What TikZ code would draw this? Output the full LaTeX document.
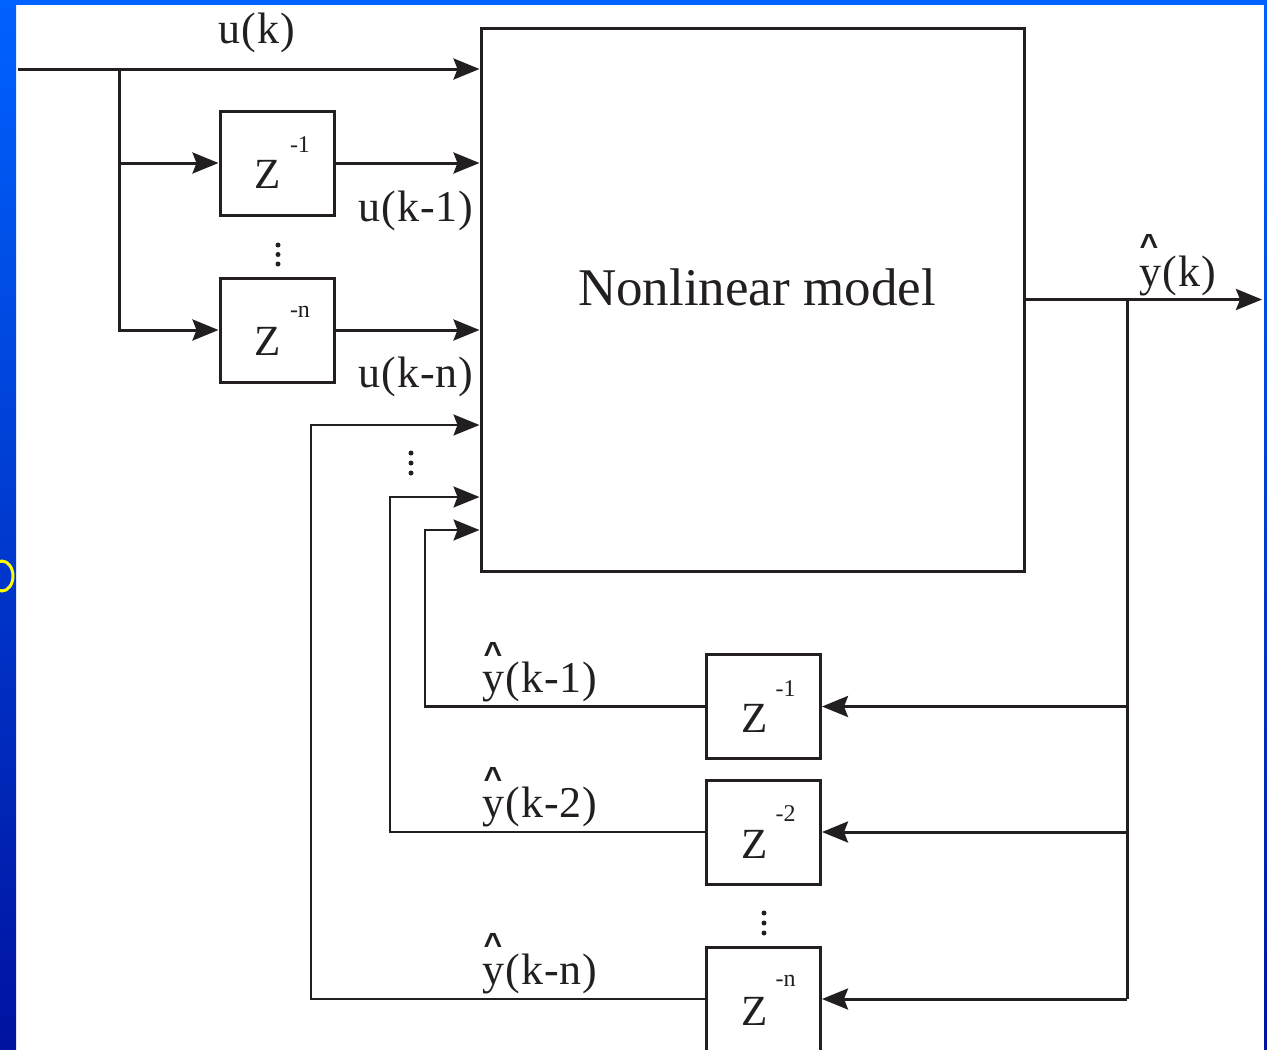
\documentclass[tikz,border=0pt]{standalone}
\usepackage{fontspec}
\setmainfont{Liberation Serif}
\newfontfamily\lblfont[LetterSpace=2.5]{Liberation Serif}
\newfontfamily\caretfont{Liberation Sans}
\usetikzlibrary{arrows.meta,calc}
\definecolor{ink}{HTML}{231F20}
\definecolor{topblue}{HTML}{0062FF}
\definecolor{midblue}{HTML}{0036CC}
\definecolor{botblue}{HTML}{0012A0}
\definecolor{slideyellow}{HTML}{FFFF00}
\begin{document}
\begin{tikzpicture}[x=1pt,y=-1pt,
  wire/.style={draw=ink,line width=3pt},
  thinwire/.style={draw=ink,line width=2.2pt},
  arr/.style={-{Stealth[length=26pt,width=21pt,inset=4pt]}},
  zbox/.style={draw=ink,line width=3pt,minimum width=114pt,minimum height=104pt,inner sep=0pt},
  bigbox/.style={draw=ink,line width=3pt,minimum width=543pt,minimum height=543pt,inner sep=0pt},
  lbl/.style={text=ink,font=\lblfont\fontsize{44}{44}\selectfont,inner sep=0pt,anchor=base west},
  zlet/.style={text=ink,font=\fontsize{43}{43}\selectfont,inner sep=0pt},
  zsup/.style={text=ink,font=\fontsize{24}{24}\selectfont,inner sep=0pt},
  hat/.style={text=ink,font=\caretfont\bfseries\fontsize{32}{32}\selectfont,inner sep=0pt,anchor=base},
  vdot/.style={fill=ink,circle,inner sep=0pt,minimum size=5pt}
]
\useasboundingbox (0,0) rectangle (1267,1050);
\clip (0,0) rectangle (1267,1050);
% slide frame
\fill[white] (0,0) rectangle (1267,1050);
\shade[top color=topblue,middle color=midblue,bottom color=botblue] (0,0) rectangle (16,1050);
\shade[top color=topblue,middle color=midblue,bottom color=botblue] (1264,0) rectangle (1267,1050);
\fill[topblue] (0,0) rectangle (1267,5);
\begin{scope}
\clip (0,540) rectangle (16,610);
\draw[slideyellow,line width=3pt] (2,576) ellipse [x radius=11, y radius=15];
\end{scope}

% main block
\node[bigbox] (model) at (752.5,299.5) {};
\node[text=ink,font=\fontsize{53}{53}\selectfont,inner sep=0pt,anchor=base] (mtxt) at (757,305) {Nonlinear model};

% input delay boxes
\node[zbox] (z1u) at (277,163) {};
\node[zlet] (z1uZ) at ($(z1u.center)+(-9,11)$) {Z};
\node[zsup] (z1uS) at ($(z1u.center)+(23,-18)$) {-1};
\node[zbox] (znu) at (277,330) {};
\node[zlet] (znuZ) at ($(znu.center)+(-9,11)$) {Z};
\node[zsup] (znuS) at ($(znu.center)+(23,-18)$) {-n};

% feedback delay boxes
\node[zbox] (z1d) at (763.5,706.5) {};
\node[zlet] (z1dZ) at ($(z1d.center)+(-9,12)$) {Z};
\node[zsup] (z1dS) at ($(z1d.center)+(22,-18)$) {-1};
\node[zbox] (z2d) at (763.5,832) {};
\node[zlet] (z2dZ) at ($(z2d.center)+(-9,12)$) {Z};
\node[zsup] (z2dS) at ($(z2d.center)+(22,-18)$) {-2};
\node[zbox] (znd) at (763.5,999) {};
\node[zlet] (zndZ) at ($(znd.center)+(-9,12)$) {Z};
\node[zsup] (zndS) at ($(znd.center)+(22,-18)$) {-n};

% input side
\coordinate (in) at (18,69);
\coordinate (j1) at (119,69);
\draw[wire,arr] (in) -- (in -| model.west);
\draw[wire,arr] (j1) |- (z1u.west);
\draw[wire,arr] (j1) |- (znu.west);
\draw[wire,arr] (z1u.east) -- (z1u.east -| model.west);
\draw[wire,arr] (znu.east) -- (znu.east -| model.west);
\node[lbl] (luk) at (218,43) {u(k)};
\node[lbl] (luk1) at (358,221) {u(k-1)};
\node[lbl] (lukn) at (358,387) {u(k-n)};
\node[vdot] (d1a) at (278,245) {};
\node[vdot] (d1b) at (278,254.5) {};
\node[vdot] (d1c) at (278,264) {};

% output side
\coordinate (yout) at (1262,299.5);
\coordinate (fb) at (1127,299.5);
\draw[wire,arr] (model.east) -- (yout);
\draw[wire] (fb) -- (fb |- znd.east);
\draw[wire,arr] (fb |- z1d.east) -- (z1d.east);
\draw[wire,arr] (fb |- z2d.east) -- (z2d.east);
\draw[wire,arr] (fb |- znd.east) -- (znd.east);
\node[lbl] (lyk) at (1139,286) {y(k)};
\node[hat] (hyk) at (1149,256) {\textasciicircum};

% feedback returns
\coordinate (c1) at (425,530);
\coordinate (c2) at (390,497);
\coordinate (cn) at (311,425);
\draw[thinwire,arr] (z1d.west) -| (c1) -- (c1 -| model.west);
\draw[thinwire,arr] (z2d.west) -| (c2) -- (c2 -| model.west);
\draw[thinwire,arr] (znd.west) -| (cn) -- (cn -| model.west);
\node[lbl] (lyk1) at (482,692) {y(k-1)};
\node[hat] (hyk1) at (493,664) {\textasciicircum};
\node[lbl] (lyk2) at (482,817) {y(k-2)};
\node[hat] (hyk2) at (493,789) {\textasciicircum};
\node[lbl] (lykn) at (482,984) {y(k-n)};
\node[hat] (hykn) at (493,955) {\textasciicircum};
\node[vdot] (d2a) at (411,453) {};
\node[vdot] (d2b) at (411,463) {};
\node[vdot] (d2c) at (411,473) {};
\node[vdot] (d3a) at (764,913) {};
\node[vdot] (d3b) at (764,923) {};
\node[vdot] (d3c) at (764,933) {};
\end{tikzpicture}
\end{document}
